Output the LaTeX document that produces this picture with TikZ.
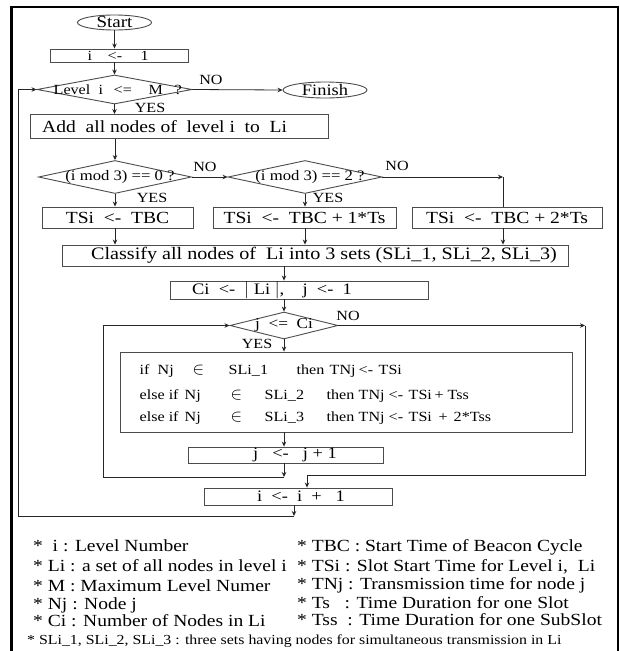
\documentclass[tikz,border=0pt]{standalone}
\usepackage{fontspec}
\setmainfont[FakeStretch=1.15]{Liberation Serif}
\usetikzlibrary{shapes.geometric,arrows.meta}
\newcommand\fs[1]{\fontsize{#1}{#1}\selectfont}
\newcommand\pc[2]{\makebox[0pt][l]{\hspace*{#1pt}#2}}
\newcommand\elem{{\fs{18}$\in$}}
\begin{document}
\begin{tikzpicture}[x=1pt,y=-1pt,
 box/.style={draw=black!70, line width=0.9pt, rectangle, inner sep=0pt},
 dia/.style={draw=black!70, line width=0.9pt, diamond, inner sep=0pt},
 ell/.style={draw=black!70, line width=0.9pt, ellipse, inner sep=0pt},
 lbl/.style={inner sep=0pt, font=\fs{14}},
 txt/.style={inner sep=0pt},
 row/.style={inner sep=0pt, anchor=base west},
 con/.style={draw=black!85, line width=0.8pt},
 arr/.style={con, -{Stealth[length=5pt,width=4.5pt]}},
 leg/.style={inner sep=0pt, anchor=base west, font=\fs{17}},
]
\useasboundingbox (0,0) rectangle (620,651);
\fill[white] (0,0) rectangle (620,651);
\draw[line width=2.8pt] (11.5,660) -- (11.5,7) -- (618,7) -- (618,660);

% nodes
\node[ell, minimum width=74, minimum height=15] (start) at (114.5,22.5) {};
\node[txt, font=\fs{16.5}] at (start) {Start};
\node[box, minimum width=138, minimum height=13] (i1) at (119,55.5) {};
\node[row, font=\fs{14}] at (87,60) {\pc{0}{i}\pc{20}{<-}\pc{53}{1}};
\node[dia, minimum width=155, minimum height=29] (d1) at (114.5,89.5) {};
\node[row, font=\fs{14}] at (53,94.5) {\pc{0}{Level}\pc{45}{i}\pc{60}{<=}\pc{95}{M}\pc{121}{?}};
\node[lbl] at (211,80) {NO};
\node[ell, minimum width=84, minimum height=16] (fin) at (325,90) {};
\node[txt, font=\fs{16}] at (fin) {Finish};
\node[lbl] at (150,108) {YES};

\node[box, minimum width=298, minimum height=24] (add) at (179,126.5) {};
\node[txt, font=\fs{17}, anchor=west] at (42,126.5) {Add\ \ all nodes of\ \ level i\ \ to\ \ Li};

\node[dia, minimum width=153, minimum height=33] (d2) at (115,177) {};
\node[txt, font=\fs{14.5}] at (120,177) {(i mod 3) == 0 ?};
\node[dia, minimum width=154, minimum height=33] (d3) at (305,177) {};
\node[txt, font=\fs{14.5}] at (310,177) {(i mod 3) == 2 ?};
\node[lbl] at (205,167) {NO};
\node[lbl] at (397,166) {NO};
\node[lbl] at (152,198) {YES};
\node[lbl] at (328,198) {YES};

\node[box, minimum width=151, minimum height=21] (b1) at (117.5,217.5) {};
\node[txt, font=\fs{17}] at (b1) {TSi\ \ <-\ \ TBC};
\node[box, minimum width=183, minimum height=21] (b2) at (304.5,217.5) {};
\node[txt, font=\fs{17}] at (b2) {TSi\ \ <-\ \ TBC + 1*Ts};
\node[box, minimum width=190, minimum height=21] (b3) at (507,217.5) {};
\node[txt, font=\fs{17}] at (b3) {TSi\ \ <-\ \ TBC + 2*Ts};

\node[box, minimum width=506, minimum height=21] (cls) at (315,255.5) {};
\node[txt, font=\fs{17.5}] at (324,255.5) {Classify all nodes of\ \ Li into 3 sets (SLi\_1, SLi\_2, SLi\_3)};

\node[box, minimum width=258, minimum height=18] (ci) at (299,290) {};
\node[txt, font=\fs{16}, anchor=west] at (192,290) {Ci\ \ <-\ \ $|$\ Li\ $|$,\ \ \ \ j\ \ <-\ \ 1};

\node[dia, minimum width=108, minimum height=27] (d4) at (284,325.5) {};
\node[txt, font=\fs{15}] at (284,325.5) {j\ \ <=\ \ Ci};
\node[lbl] at (348,316) {NO};
\node[lbl] at (257,344) {YES};

\node[box, minimum width=452, minimum height=80] (ifb) at (346,392) {};
\node[row, font=\fs{14}] at (139,374) {\pc{0}{if}\pc{18}{Nj}\pc{53}{\elem}\pc{89}{SLi\_1}\pc{157}{then}\pc{190}{TNj}\pc{219}{<-}\pc{239}{TSi}};
\node[row, font=\fs{14}] at (139,399.5) {\pc{0}{else if}\pc{45}{Nj}\pc{91}{\elem}\pc{125}{SLi\_2}\pc{187}{then}\pc{219}{TNj}\pc{249}{<-}\pc{269}{TSi}\pc{295}{+}\pc{308}{Tss}};
\node[row, font=\fs{14}] at (139,421.5) {\pc{0}{else if}\pc{45}{Nj}\pc{91}{\elem}\pc{125}{SLi\_3}\pc{187}{then}\pc{219}{TNj}\pc{249}{<-}\pc{269}{TSi}\pc{299}{+}\pc{314}{2*Tss}};

\node[box, minimum width=195, minimum height=16] (jb) at (285.5,455) {};
\node[txt, font=\fs{16}] at (295,455) {j\hspace{14pt}<-\hspace{14pt}j + 1};

\node[box, minimum width=188, minimum height=17] (ib) at (298,496.5) {};
\node[txt, font=\fs{16}] at (301,496.5) {i\ \ <-\ \ i\ \ +\ \ \ 1};

% connectors
\coordinate (c3) at (503,177);
\coordinate (cj) at (284,477);
\coordinate (cjl) at (103,477);
\coordinate (cn) at (585,325.5);
\coordinate (cn2) at (307,475);
\coordinate (ci2) at (294,516);
\coordinate (cil) at (18,516);

\draw[arr] (start.south) -- (start.south |- i1.north);
\draw[arr] (i1.south -| d1.north) -- (d1.north);
\draw[arr] (d1.east) -- (fin.west);
\draw[arr] (d1.south) -- (d1.south |- add.north);
\draw[arr] (add.south -| d2.north) -- (d2.north);
\draw[arr] (d2.east) -- (d3.west);
\draw[arr] (d2.south) -- (d2.south |- b1.north);
\draw[arr] (d3.south) -- (d3.south |- b2.north);
\draw[arr] (d3.east) -- (c3);
\draw[con] (c3) -- (c3 |- b3.north);
\draw[arr] (b1.south -| d2.south) -- (d2.south |- cls.north);
\draw[arr] (b2.south -| d3.south) -- (d3.south |- cls.north);
\draw[arr] (b3.south -| c3) -- (c3 |- cls.north);
\draw[arr] (cls.south -| d4.north) -- (d4.north |- ci.north);
\draw[arr] (ci.south -| d4.north) -- (d4.north);
\draw[arr] (d4.south) -- (d4.south |- ifb.north);
\draw[arr] (ifb.south -| d4.south) -- (d4.south |- jb.north);
\draw[arr] (jb.south -| cj) -- (cj);
\draw[arr] (cj) -- (cjl) |- (d4.west);
\draw[arr] (d4.east) -- (cn);
\draw[arr] (cn) |- (cn2) -- (cn2 |- ib.north);
\draw[arr] (ib.south -| ci2) -- (ci2);
\draw[arr] (ci2) -- (cil) |- (d1.west);

% legend
\node[leg] at (33,551) {*\ \ i : Level Number};
\node[leg] at (33,571) {* Li : a set of all nodes in level i};
\node[leg] at (33,591) {* M : Maximum Level Numer};
\node[leg] at (33,609) {* Nj : Node j};
\node[leg] at (33,626) {* Ci : Number of Nodes in Li};
\node[leg] at (297,551) {* TBC : Start Time of Beacon Cycle};
\node[leg] at (297,571) {* TSi : Slot Start Time for Level i,\ \ Li};
\node[leg] at (297,589) {* TNj : Transmission time for node j};
\node[leg] at (297,608) {* Ts\ \ \ : Time Duration for one Slot};
\node[leg] at (297,625) {* Tss\ \ : Time Duration for one SubSlot};
\node[leg, font=\fs{13.8}] at (27,644) {* SLi\_1, SLi\_2, SLi\_3 : three sets having nodes for simultaneous transmission in Li};
\end{tikzpicture}
\end{document}
